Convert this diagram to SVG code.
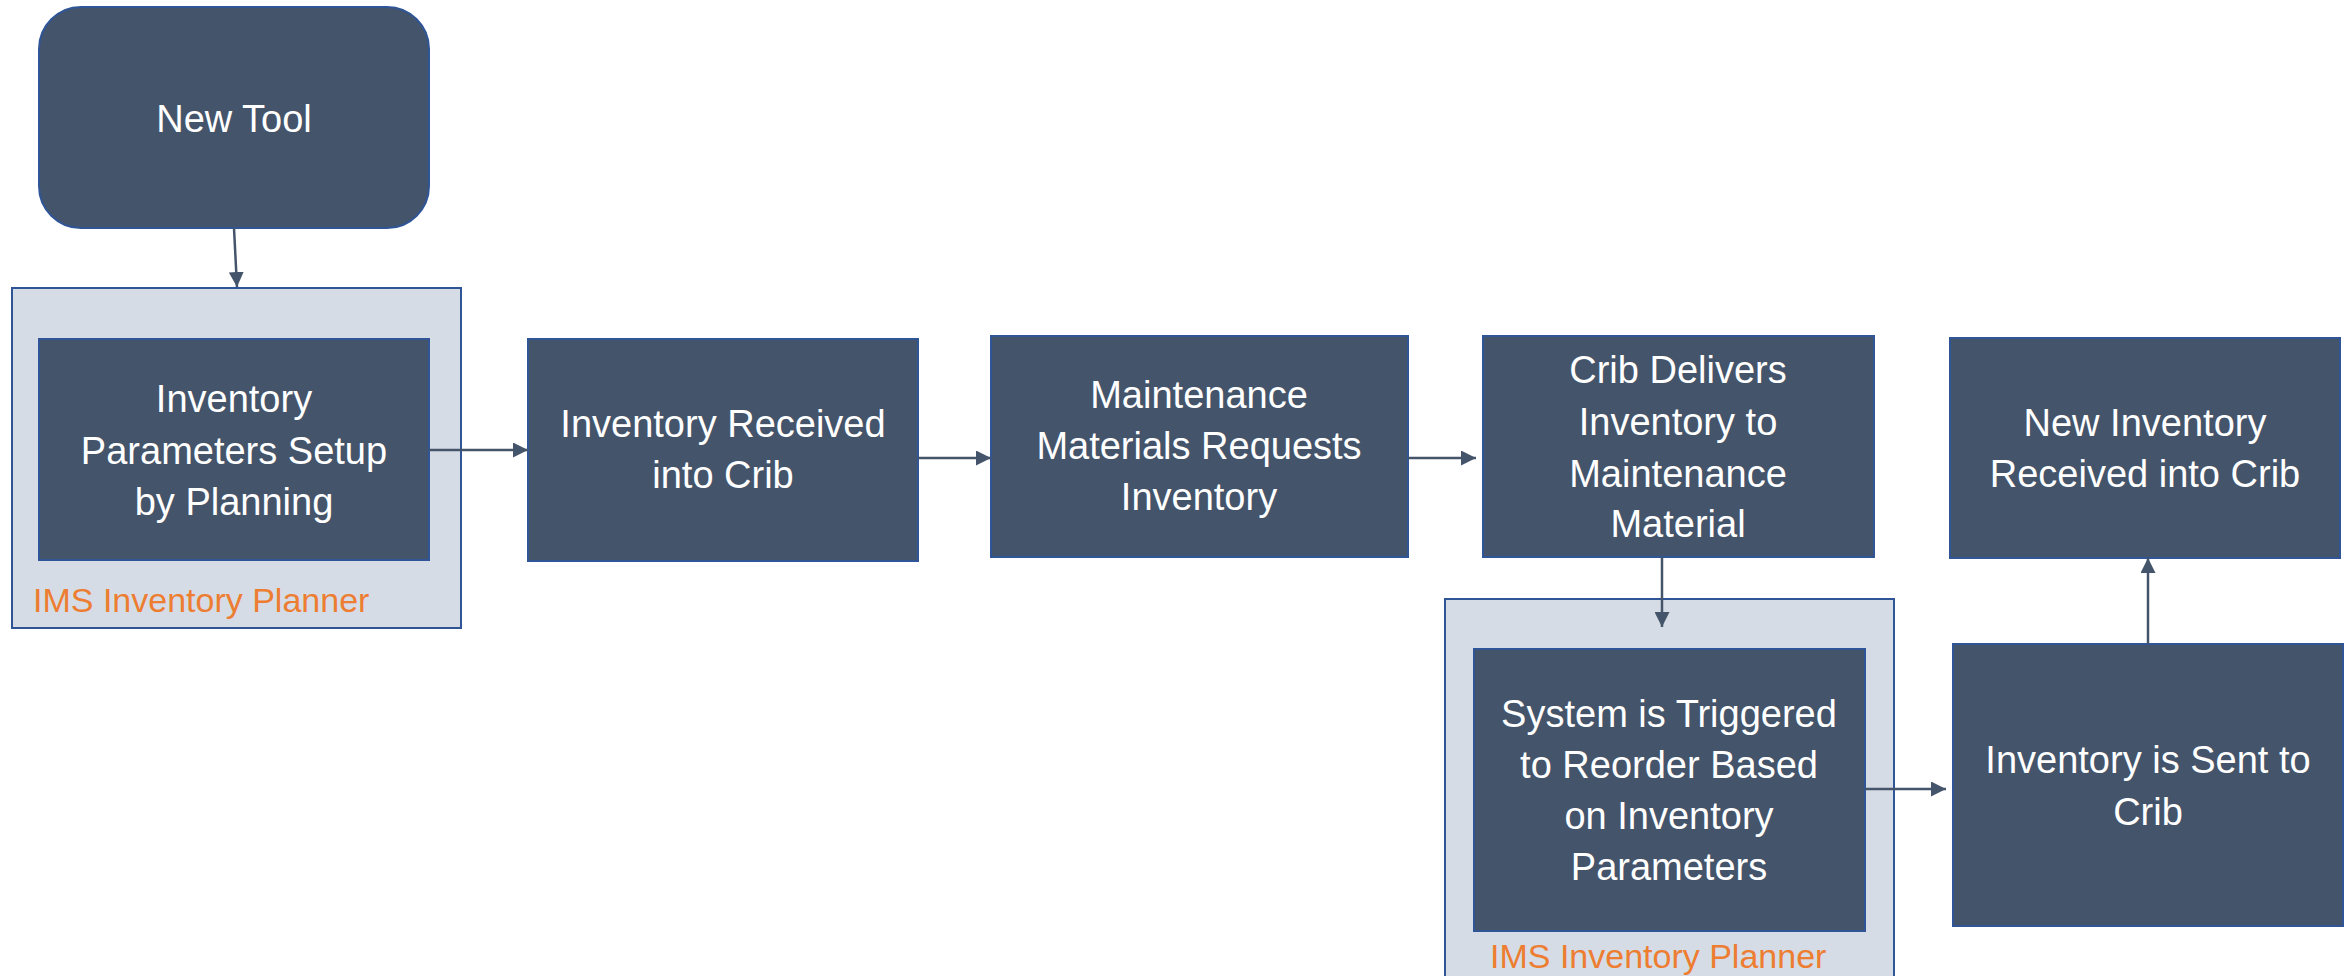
<svg xmlns="http://www.w3.org/2000/svg" width="2346" height="976" viewBox="0 0 2346 976">
<defs>
<style>
.node{fill:#44546A;stroke:#2F5597;stroke-width:2}
.grp{fill:#D6DCE5;stroke:#2F5597;stroke-width:2}
.t{font-family:"Liberation Sans",Arial,sans-serif;font-size:38px;fill:#FFFFFF;text-anchor:middle}
.lbl{font-family:"Liberation Sans",Arial,sans-serif;font-size:34px;fill:#ED7D31}
.c{stroke:#44546A;stroke-width:2.5;fill:none;marker-end:url(#ah)}
</style>
<marker id="ah" viewBox="0 0 10 10" refX="10" refY="5" markerWidth="6" markerHeight="6" markerUnits="strokeWidth" orient="auto">
<path d="M0,0 L10,5 L0,10 Z" fill="#44546A"/>
</marker>
</defs>
<rect width="2346" height="976" fill="#FFFFFF"/>
<g id="group1">
<rect class="grp" x="12" y="288" width="449" height="340"/>
<text class="lbl" x="33" y="612">IMS Inventory Planner</text>
</g>
<g id="group2">
<rect class="grp" x="1445" y="599" width="449" height="390"/>
<text class="lbl" x="1490" y="968">IMS Inventory Planner</text>
</g>
<g id="new-tool">
<rect class="node" x="39" y="7" width="390" height="221" rx="42" ry="42"/>
<text class="t" x="234" y="132">New Tool</text>
</g>
<g id="params-setup">
<rect class="node" x="39" y="339" width="390" height="221"/>
<text class="t" x="234" y="412">Inventory</text>
<text class="t" x="234" y="464">Parameters Setup</text>
<text class="t" x="234" y="515">by Planning</text>
</g>
<g id="received-crib">
<rect class="node" x="528" y="339" width="390" height="222"/>
<text class="t" x="723" y="437">Inventory Received</text>
<text class="t" x="723" y="488">into Crib</text>
</g>
<g id="maint-requests">
<rect class="node" x="991" y="336" width="417" height="221"/>
<text class="t" x="1199" y="408">Maintenance</text>
<text class="t" x="1199" y="459">Materials Requests</text>
<text class="t" x="1199" y="510">Inventory</text>
</g>
<g id="crib-delivers">
<rect class="node" x="1483" y="336" width="391" height="221"/>
<text class="t" x="1678" y="383">Crib Delivers</text>
<text class="t" x="1678" y="435">Inventory to</text>
<text class="t" x="1678" y="487">Maintenance</text>
<text class="t" x="1678" y="537">Material</text>
</g>
<g id="new-inventory">
<rect class="node" x="1950" y="338" width="390" height="220"/>
<text class="t" x="2145" y="436">New Inventory</text>
<text class="t" x="2145" y="487">Received into Crib</text>
</g>
<g id="system-triggered">
<rect class="node" x="1474" y="649" width="391" height="282"/>
<text class="t" x="1669" y="727">System is Triggered</text>
<text class="t" x="1669" y="778">to Reorder Based</text>
<text class="t" x="1669" y="829">on Inventory</text>
<text class="t" x="1669" y="880">Parameters</text>
</g>
<g id="sent-crib">
<rect class="node" x="1953" y="644" width="390" height="282"/>
<text class="t" x="2148" y="773">Inventory is Sent to</text>
<text class="t" x="2148" y="825">Crib</text>
</g>
<g id="connectors">
<path class="c" d="M234,228 L237,287"/>
<path class="c" d="M429,450 L528,450"/>
<path class="c" d="M918,458 L991,458"/>
<path class="c" d="M1408,458 L1476,458"/>
<path class="c" d="M1662,557 L1662,627"/>
<path class="c" d="M1865,789 L1946,789"/>
<path class="c" d="M2148,644 L2148,558"/>
</g>
</svg>
